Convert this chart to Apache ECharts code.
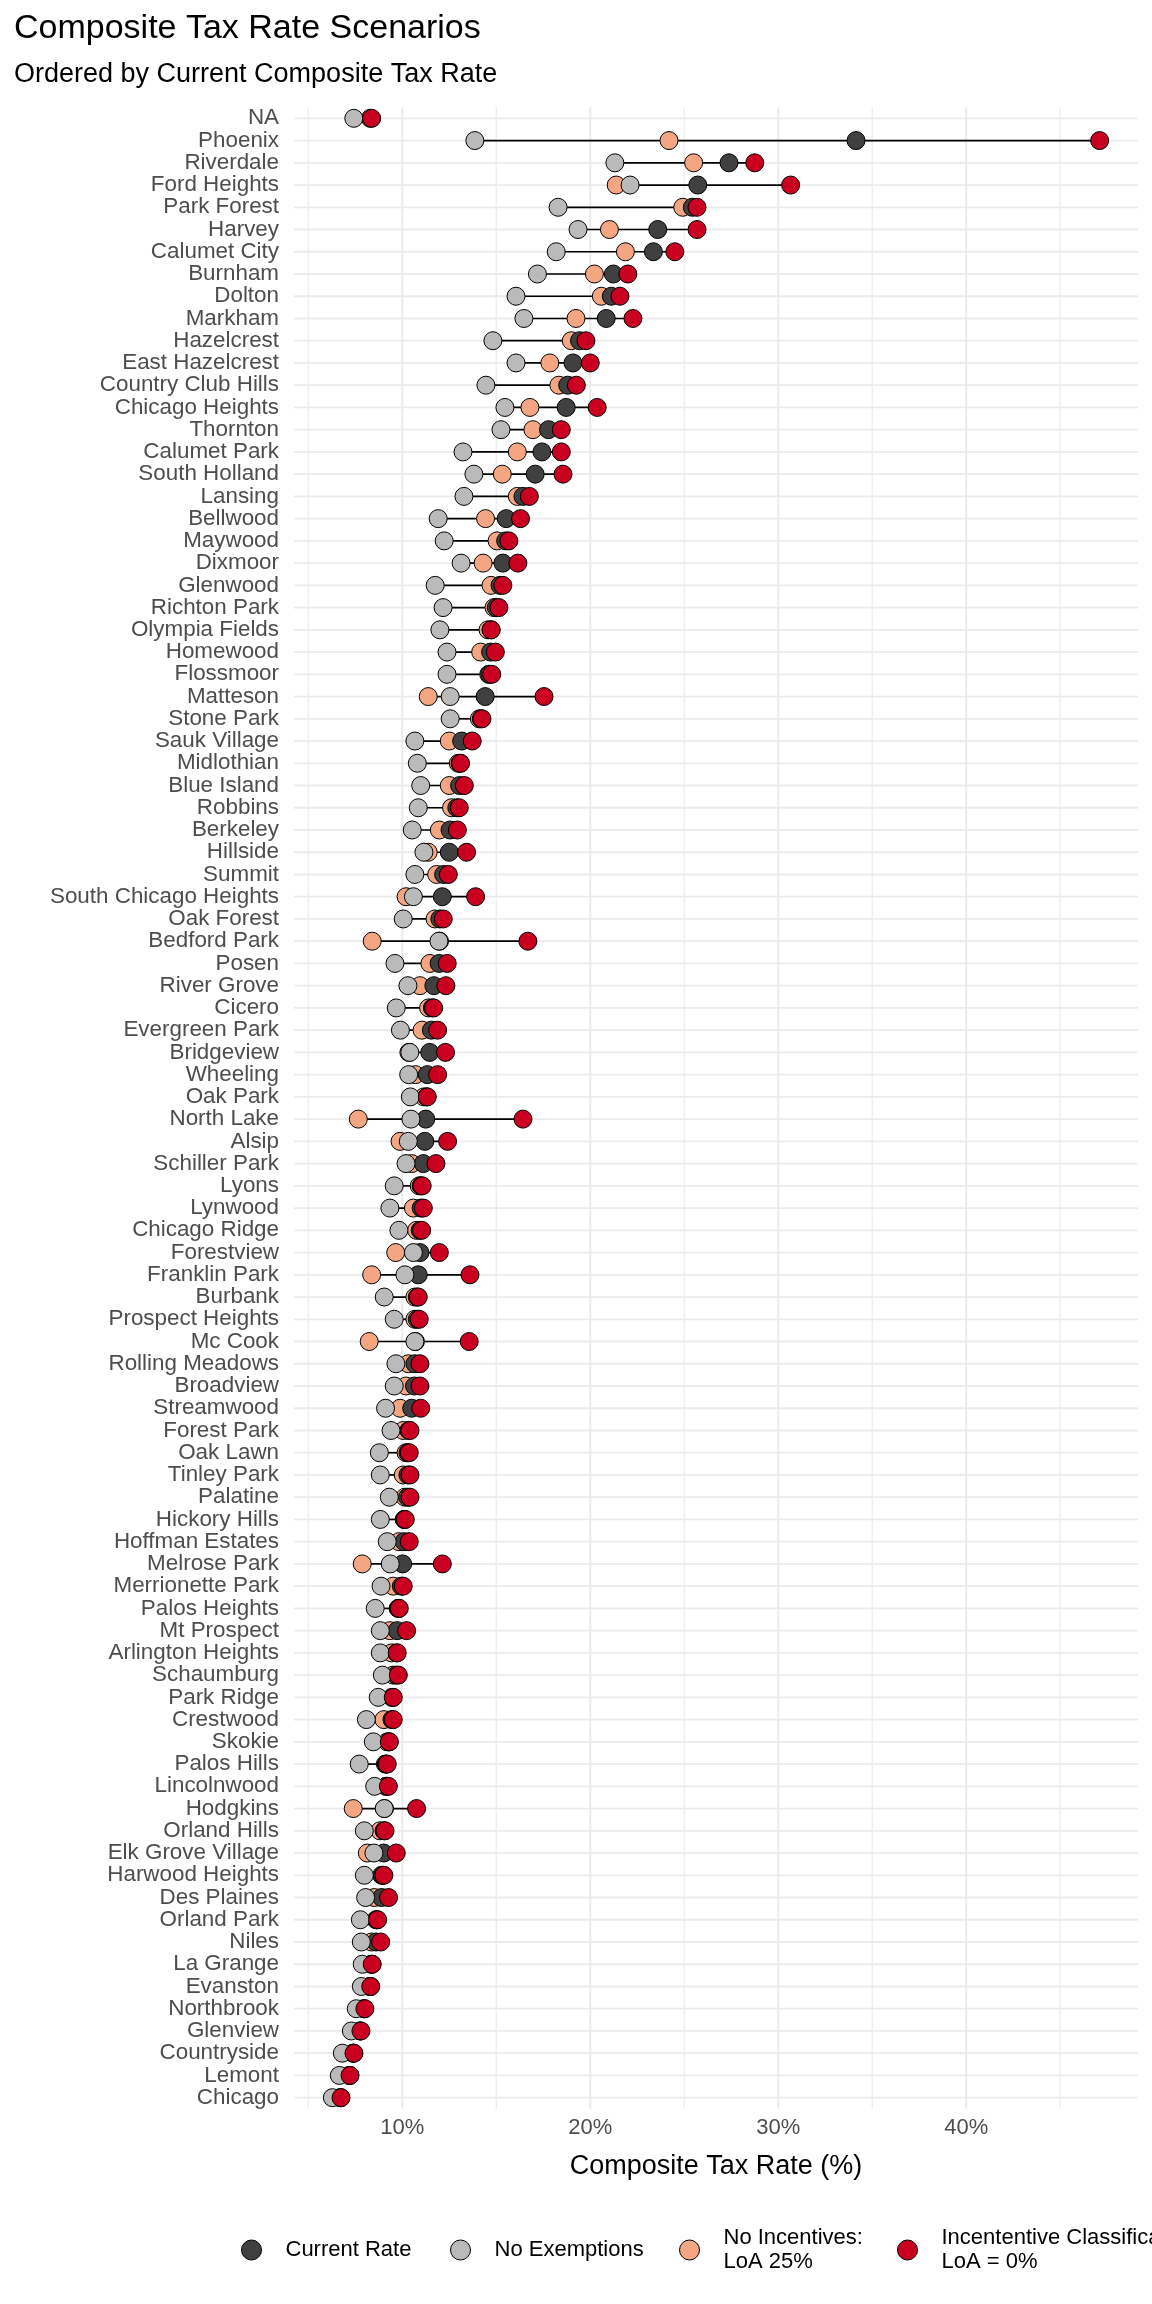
<!DOCTYPE html>
<html><head><meta charset="utf-8">
<script src="https://cdn.jsdelivr.net/npm/echarts@6/dist/echarts.min.js"></script>
<style>html,body{margin:0;padding:0;background:#fff}#chart{width:1152px;height:2304px}</style>
</head><body><div id="chart"></div>
<script>
const categories = ['NA','Phoenix','Riverdale','Ford Heights','Park Forest','Harvey','Calumet City','Burnham','Dolton','Markham','Hazelcrest','East Hazelcrest','Country Club Hills','Chicago Heights','Thornton','Calumet Park','South Holland','Lansing','Bellwood','Maywood','Dixmoor','Glenwood','Richton Park','Olympia Fields','Homewood','Flossmoor','Matteson','Stone Park','Sauk Village','Midlothian','Blue Island','Robbins','Berkeley','Hillside','Summit','South Chicago Heights','Oak Forest','Bedford Park','Posen','River Grove','Cicero','Evergreen Park','Bridgeview','Wheeling','Oak Park','North Lake','Alsip','Schiller Park','Lyons','Lynwood','Chicago Ridge','Forestview','Franklin Park','Burbank','Prospect Heights','Mc Cook','Rolling Meadows','Broadview','Streamwood','Forest Park','Oak Lawn','Tinley Park','Palatine','Hickory Hills','Hoffman Estates','Melrose Park','Merrionette Park','Palos Heights','Mt Prospect','Arlington Heights','Schaumburg','Park Ridge','Crestwood','Skokie','Palos Hills','Lincolnwood','Hodgkins','Orland Hills','Elk Grove Village','Harwood Heights','Des Plaines','Orland Park','Niles','La Grange','Evanston','Northbrook','Glenview','Countryside','Lemont','Chicago'];

const currentRate = [null,34.14,27.38,25.72,25.43,23.59,23.36,21.23,21.12,20.85,19.43,19.08,18.8,18.72,17.78,17.43,17.07,16.42,15.53,15.5,15.35,15.2,15.0,14.72,14.7,14.65,14.41,14.2,13.16,13.07,13.05,12.9,12.54,12.5,12.2,12.13,12.0,11.98,11.96,11.68,11.6,11.55,11.46,11.33,11.3,11.25,11.2,11.12,11.0,11.0,10.95,10.94,10.85,10.8,10.8,10.7,10.67,10.65,10.5,10.35,10.3,10.3,10.28,10.12,10.1,10.02,9.95,9.8,9.73,9.7,9.68,9.5,9.45,9.3,9.15,9.14,9.05,9.03,9.01,8.95,8.9,8.65,8.6,8.38,8.3,7.98,7.77,7.4,7.2,6.72];

const noExemptions = [7.42,13.86,21.31,22.12,18.29,19.35,18.19,17.19,16.05,16.47,14.82,16.05,14.45,15.46,15.25,13.23,13.81,13.28,11.91,12.23,13.13,11.75,12.17,12.0,12.38,12.38,12.55,12.55,10.67,10.8,10.98,10.85,10.53,11.15,10.67,10.59,10.05,11.95,9.61,10.3,9.68,9.9,10.4,10.34,10.43,10.46,10.32,10.2,9.57,9.34,9.82,10.59,10.14,9.04,9.57,10.67,9.66,9.57,9.11,9.4,8.78,8.83,9.31,8.83,9.2,9.36,8.87,8.56,8.83,8.83,8.94,8.72,8.09,8.46,7.71,8.53,9.04,7.98,8.49,7.98,8.05,7.77,7.82,7.87,7.82,7.55,7.29,6.81,6.65,6.28];

const noIncentives = [8.3,24.19,25.5,21.38,24.92,21.02,21.87,20.22,20.59,19.24,18.99,17.85,18.33,16.79,16.95,16.12,15.32,16.12,14.43,15.04,14.3,14.72,14.88,14.56,14.17,14.6,11.38,14.1,12.5,12.98,12.5,12.62,11.97,11.38,11.83,10.2,11.74,8.4,11.47,10.94,11.4,11.05,10.35,10.7,11.15,7.66,9.88,10.5,10.9,10.59,10.76,9.65,8.37,10.67,10.67,8.24,10.32,10.2,9.88,10.05,10.2,10.05,10.14,10.1,9.82,7.87,9.52,9.78,9.34,9.43,9.52,9.45,9.02,9.2,9.1,9.15,7.39,8.81,8.14,8.9,8.51,8.6,8.37,8.35,8.28,7.95,7.75,7.38,7.18,6.7];

const incentiveClass = [8.37,47.1,28.75,30.66,25.68,25.68,24.5,22.0,21.58,22.27,19.77,20.0,19.26,20.37,18.46,18.46,18.55,16.76,16.29,15.67,16.15,15.35,15.14,14.73,14.95,14.76,17.54,14.24,13.72,13.1,13.3,13.03,12.93,13.42,12.45,13.9,12.18,16.68,12.39,12.32,11.67,11.88,12.3,11.88,11.33,16.42,12.41,11.79,11.06,11.12,11.03,11.97,13.6,10.85,10.9,13.56,10.94,10.94,10.98,10.41,10.37,10.41,10.41,10.16,10.37,12.13,10.05,9.84,10.23,9.73,9.79,9.52,9.52,9.31,9.2,9.26,10.76,9.08,9.68,9.02,9.27,8.69,8.85,8.4,8.32,8.01,7.8,7.43,7.22,6.74];

const xTickLabels = [10, 20, 30, 40];
const xMinorTicks = [5, 15, 25, 35, 45];

const seriesNames = ['Current Rate', 'No Exemptions', 'No Incentives: LoA 25%', 'Incententive Classification: LoA = 0%'];
const seriesColors = ['#404040', '#BABABA', '#F4A582', '#CA0020'];
const seriesValues = [currentRate, noExemptions, noIncentives, incentiveClass];

const allVals = [].concat(currentRate, noExemptions, noIncentives, incentiveClass).filter(v => v != null);
const dMin = Math.min(...allVals), dMax = Math.max(...allVals);
const pad = (dMax - dMin) * 0.05;
const xLo = dMin - pad, xHi = dMax + pad;

const FONT = 'Liberation Sans, Arial, sans-serif';

const segData = categories.map((c, i) => {
  const vs = seriesValues.map(a => a[i]).filter(v => v != null);
  return [Math.min(...vs), Math.max(...vs), i];
});

function pointSeries(k) {
  return {
    name: seriesNames[k], type: 'scatter', symbol: 'circle', symbolSize: 18,
    itemStyle: { color: seriesColors[k], borderColor: '#000', borderWidth: 1, opacity: 1 },
    data: seriesValues[k].map((v, i) => v == null ? null : [v, i]).filter(d => d),
    z: 5, silent: true, animation: false
  };
}

const chart = echarts.init(document.getElementById('chart'), null, { renderer: 'canvas' });

const legendCenters = [270, 479, 708, 926];
const legends = seriesNames.map((n, k) => ({
  data: [n], left: legendCenters[k] - 29, top: n.indexOf(':') >= 0 ? 2226 : 2238,
  padding: 0, itemWidth: 58, itemHeight: 20, icon: 'circle', selectedMode: false,
  itemStyle: { color: seriesColors[k], borderColor: '#000', borderWidth: 1 },
  formatter: name => name.replace(': ', ':\n'),
  textStyle: { fontSize: 22, color: '#000', fontFamily: FONT, lineHeight: 24 }
}));

chart.setOption({
  animation: false,
  backgroundColor: '#fff',
  textStyle: { fontFamily: FONT },
  title: [
    { text: 'Composite Tax Rate Scenarios', left: 14, top: 12, padding: 0,
      textStyle: { fontSize: 34, fontWeight: 'normal', color: '#000', fontFamily: FONT } },
    { text: 'Ordered by Current Composite Tax Rate', left: 14, top: 61, padding: 0,
      textStyle: { fontSize: 27, fontWeight: 'normal', color: '#000', fontFamily: FONT } }
  ],
  legend: legends,
  grid: { left: 294, right: 14, top: 107.2, bottom: 195.2, containLabel: false },
  xAxis: {
    type: 'value', min: xLo, max: xHi,
    axisLine: { show: false }, axisTick: { show: false }, splitLine: { show: false },
    axisLabel: { customValues: xTickLabels, formatter: '{value}%', fontSize: 22, color: '#4D4D4D', margin: 8, fontFamily: FONT },
    name: 'Composite Tax Rate (%)', nameLocation: 'middle', nameGap: 44,
    nameTextStyle: { fontSize: 27, color: '#000', fontFamily: FONT }
  },
  yAxis: {
    type: 'category', data: categories, inverse: true,
    axisLine: { show: false }, axisTick: { show: false }, splitLine: { show: false },
    axisLabel: { interval: 0, fontSize: 22.4, color: '#4D4D4D', margin: 15, fontFamily: FONT }
  },
  series: [
    { type: 'custom', name: 'hgrid', silent: true, z: 1,
      data: categories.map((c, i) => [xLo, i]),
      renderItem: (params, api) => {
        const cs = params.coordSys;
        const y = api.coord([xLo, api.value(1)])[1];
        return { type: 'line', shape: { x1: cs.x, y1: y, x2: cs.x + cs.width, y2: y }, style: { stroke: '#EBEBEB', lineWidth: 1.8 } };
      } },
    { type: 'custom', name: 'vgridMinor', silent: true, z: 1,
      data: xMinorTicks.map(v => [v, 0]),
      renderItem: (params, api) => {
        const cs = params.coordSys;
        const x = api.coord([api.value(0), 0])[0];
        return { type: 'line', shape: { x1: x, y1: cs.y, x2: x, y2: cs.y + cs.height }, style: { stroke: '#EBEBEB', lineWidth: 1.2 } };
      } },
    { type: 'custom', name: 'vgridMajor', silent: true, z: 1,
      data: xTickLabels.map(v => [v, 0]),
      renderItem: (params, api) => {
        const cs = params.coordSys;
        const x = api.coord([api.value(0), 0])[0];
        return { type: 'line', shape: { x1: x, y1: cs.y, x2: x, y2: cs.y + cs.height }, style: { stroke: '#EBEBEB', lineWidth: 2 } };
      } },
    { type: 'custom', name: 'segments', silent: true, z: 3,
      encode: { x: [0, 1], y: 2 },
      data: segData,
      renderItem: (params, api) => {
        const p1 = api.coord([api.value(0), api.value(2)]);
        const p2 = api.coord([api.value(1), api.value(2)]);
        return { type: 'line', shape: { x1: p1[0], y1: p1[1], x2: p2[0], y2: p2[1] }, style: { stroke: '#000', lineWidth: 1.7 } };
      } },
    pointSeries(2),
    pointSeries(0),
    pointSeries(1),
    pointSeries(3)
  ]
});
</script>
</body></html>
